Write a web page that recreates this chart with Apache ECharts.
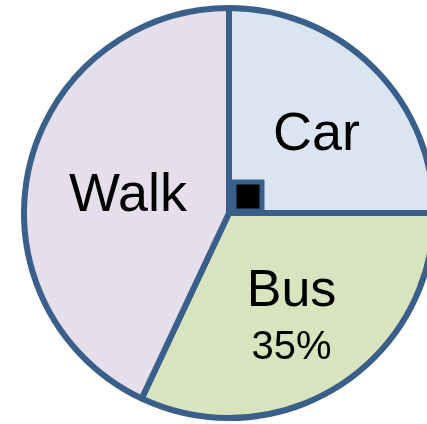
<!DOCTYPE html>
<html>
<head>
<meta charset="utf-8">
<script src="https://cdn.jsdelivr.net/npm/echarts@6/dist/echarts.min.js"></script>
<style>
html,body{margin:0;padding:0;background:#fff;}
#c{width:427px;height:424px;}
</style>
</head>
<body>
<div id="c"></div>
<script>
var categories = ['Car', 'Bus', 'Walk'];
var values = [25, 32, 43];
var labelTexts = ['Car', '{a|Bus}\n{b|35%}', 'Walk'];
var colors = ['#dbe5f1', '#d7e4bd', '#e5dfec'];
var offsets = [[13, -3], [6, 18], [2, 6]];

var chart = echarts.init(document.getElementById('c'), null, {renderer: 'canvas'});
var data = categories.map(function (c, i) {
  return {
    name: c,
    value: values[i],
    itemStyle: {color: colors[i]},
    label: {formatter: labelTexts[i], offset: offsets[i]}
  };
});
chart.setOption({
  animation: false,
  backgroundColor: '#fff',
  series: [{
    type: 'pie',
    center: [229, 213],
    radius: [0, 205],
    startAngle: 90,
    clockwise: true,
    data: data,
    itemStyle: {borderColor: '#3a5f8b', borderWidth: 6},
    label: {
      show: true,
      position: 'inside',
      color: '#000',
      fontFamily: 'Liberation Sans',
      fontSize: 54,
      rich: {
        a: {fontSize: 52, lineHeight: 56, fontFamily: 'Liberation Sans', color: '#000'},
        b: {fontSize: 40, lineHeight: 56, fontFamily: 'Liberation Sans', color: '#000'}
      }
    },
    labelLine: {show: false},
    emphasis: {disabled: true}
  }],
  graphic: [{
    type: 'rect',
    shape: {x: 234, y: 182, width: 28, height: 29},
    style: {fill: '#000', stroke: '#3a5f8b', lineWidth: 5},
    z: 100
  }]
});
</script>
</body>
</html>
